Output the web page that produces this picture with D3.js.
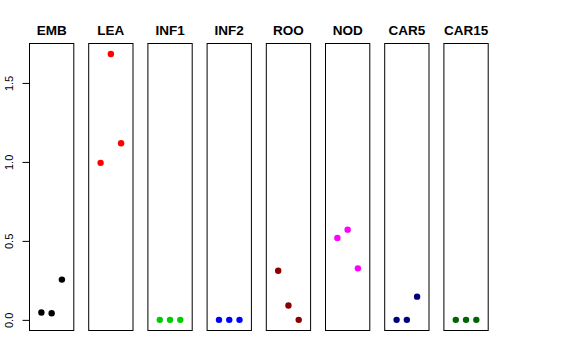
<!DOCTYPE html>
<html><head><meta charset="utf-8">
<script src="https://cdn.jsdelivr.net/npm/d3@7"></script>
<style>body{margin:0;background:#fff}svg{display:block}</style>
</head><body><svg id="c" width="576" height="360"></svg>
<script>
const categories = ["EMB","LEA","INF1","INF2","ROO","NOD","CAR5","CAR15"];
const colors = ["#000000","#FF0000","#00CD00","#0000FF","#8B0000","#FF00FF","#000080","#006400"];
const values = [
  [0.047, 0.042, 0.255],
  [0.994, 1.683, 1.118],
  [0, 0, 0],
  [0, 0, 0],
  [0.311, 0.091, 0],
  [0.519, 0.571, 0.326],
  [0, 0, 0.147],
  [0, 0, 0]
];
const yTicks = [0, 0.5, 1.0, 1.5];
const yTickLabels = ["0.0","0.5","1.0","1.5"];

(function(){
const svg = d3.select("#c");
const pTop = 43.5, pBottom = 330.5;
const y = d3.scaleLinear().domain([-0.0673, 1.7496]).range([pBottom, pTop]);
const panelX = d3.scaleLinear().domain([0, 1]).range([29.5, 88.7]);
const pw = 44.3;

categories.forEach((cat, i) => {
  const left = panelX(i);
  const x = d3.scaleLinear().domain([-0.16, 4.16]).range([left, left + pw]);
  const g = svg.append("g");
  g.selectAll("circle").data(values[i]).join("circle")
    .attr("cx", (d, j) => x(j + 1))
    .attr("cy", d => y(d))
    .attr("r", 3.2)
    .attr("fill", colors[i]);
  g.append("rect").attr("x", left).attr("y", pTop).attr("width", pw).attr("height", pBottom - pTop)
    .attr("fill", "none").attr("stroke", "#000").attr("stroke-width", 1);
  g.append("text").attr("x", left + pw / 2).attr("y", 35)
    .attr("text-anchor", "middle").attr("font-family", "Liberation Sans, Arial, sans-serif")
    .attr("font-weight", "bold").attr("font-size", 13.5).text(cat);
});

const axis = d3.axisLeft(y).tickValues(yTicks).tickFormat((d, i) => yTickLabels[i]).tickSize(7).tickPadding(4);
const ag = svg.append("g").attr("transform", "translate(29.5,0)").call(axis);
ag.select(".domain").attr("d", `M0,${y(0)}V${y(1.5)}`).attr("stroke", "#000");
ag.selectAll(".tick line").attr("stroke", "#000");
ag.selectAll(".tick text")
  .attr("font-family", "Liberation Sans, Arial, sans-serif").attr("font-size", 11).attr("fill", "#000")
  .attr("transform", "rotate(-90, -19, 0)")
  .attr("x", -19).attr("dy", "0").attr("y", 0)
  .attr("text-anchor", "middle").attr("dominant-baseline", "middle");
})();
</script></body></html>
